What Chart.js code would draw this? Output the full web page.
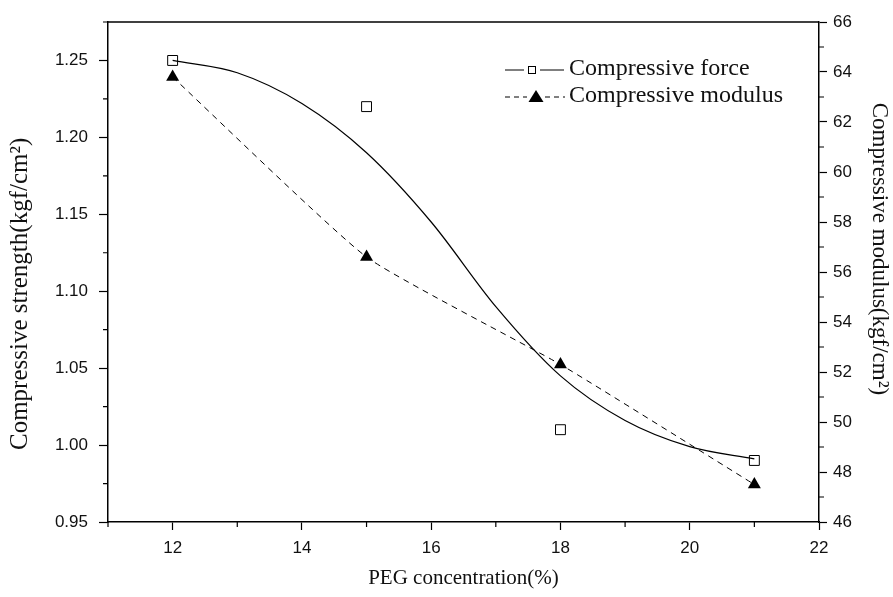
<!DOCTYPE html>
<html>
<head>
<meta charset="utf-8">
<script src="https://cdn.jsdelivr.net/npm/chart.js@4.4.1/dist/chart.umd.min.js"></script>
<style>
html, body { margin: 0; padding: 0; background: #fff; }
#wrap { width: 893px; height: 597px; }
</style>
</head>
<body>
<div id="wrap"><canvas id="c" width="893" height="597"></canvas></div>
<script>
// measured points
const concentration = [12, 15, 18, 21];
const forceValues = [1.25, 1.22, 1.01, 0.99];
const modulusValues = [63.8, 56.6, 52.3, 47.5];
// fitted curve for compressive force
const fitX = [12, 13, 14, 15, 16, 17, 18, 19, 20, 21];
const fitForce = [1.25, 1.242, 1.222, 1.19, 1.145, 1.09, 1.045, 1.016, 0.999, 0.991];

const xTickLabels = [12, 14, 16, 18, 20, 22];
const leftTickLabels = ['0.95', '1.00', '1.05', '1.10', '1.15', '1.20', '1.25'];
const rightTickLabels = [46, 48, 50, 52, 54, 56, 58, 60, 62, 64, 66];

const serif = "'Liberation Serif', 'Times New Roman', serif";
const sans = "'Liberation Sans', Arial, sans-serif";
const pad = n => '\u00A0'.repeat(n); // titles sit off-centre in the original

const xMajor = v => xTickLabels.includes(Math.round(v));
const leftMajor = v => leftTickLabels.includes(v.toFixed(2));
const rightMajor = v => rightTickLabels.includes(Math.round(v));

const tickCol = fn => c => (c.tick && fn(c.tick.value)) ? '#000' : 'rgba(0,0,0,0)';

// top frame line + short minor ticks
const frameTicks = {
    id: 'frameTicks',
    afterDraw(chart) {
        const { ctx, chartArea: a, scales } = chart;
        ctx.save();
        ctx.strokeStyle = '#000';
        ctx.lineWidth = 1.5;
        ctx.beginPath();
        ctx.moveTo(a.left, a.top); ctx.lineTo(a.right, a.top);
        ctx.stroke();
        ctx.lineWidth = 1.2;
        ctx.beginPath();
        scales.x.ticks.forEach(t => {
            if (xMajor(t.value)) return;
            const p = scales.x.getPixelForValue(t.value);
            ctx.moveTo(p, a.bottom); ctx.lineTo(p, a.bottom + 5);
        });
        scales.y.ticks.forEach(t => {
            if (leftMajor(t.value)) return;
            const p = scales.y.getPixelForValue(t.value);
            ctx.moveTo(a.left, p); ctx.lineTo(a.left - 5, p);
        });
        scales.y2.ticks.forEach(t => {
            if (rightMajor(t.value)) return;
            const p = scales.y2.getPixelForValue(t.value);
            ctx.moveTo(a.right, p); ctx.lineTo(a.right + 5, p);
        });
        ctx.stroke();
        ctx.restore();
    }
};

const legendBox = {
    id: 'legendBox',
    afterDraw(chart) {
        const ctx = chart.ctx;
        ctx.save();
        ctx.strokeStyle = '#000';
        ctx.fillStyle = '#000';
        ctx.lineWidth = 1;
        // row 1
        let y = 70;
        ctx.beginPath();
        ctx.moveTo(505, y); ctx.lineTo(524, y);
        ctx.moveTo(540, y); ctx.lineTo(564, y);
        ctx.stroke();
        ctx.fillStyle = '#fff';
        ctx.fillRect(528.5, y - 3.5, 7, 7);
        ctx.strokeRect(528.5, y - 3.5, 7, 7);
        // row 2
        y = 97;
        ctx.setLineDash([5, 4]);
        ctx.beginPath();
        ctx.moveTo(505, y); ctx.lineTo(527, y);
        ctx.moveTo(545, y); ctx.lineTo(565, y);
        ctx.stroke();
        ctx.setLineDash([]);
        ctx.fillStyle = '#000';
        ctx.beginPath();
        ctx.moveTo(536, y - 7); ctx.lineTo(543.5, y + 5); ctx.lineTo(528.5, y + 5);
        ctx.closePath();
        ctx.fill();
        ctx.font = '24px ' + serif;
        ctx.textBaseline = 'middle';
        ctx.fillStyle = '#111';
        ctx.fillText('Compressive force', 569, 69);
        ctx.fillText('Compressive modulus', 569, 96);
        ctx.restore();
    }
};

new Chart(document.getElementById('c'), {
    type: 'line',
    data: {
        datasets: [
            {
                label: 'fit',
                data: fitX.map((x, i) => ({ x, y: fitForce[i] })),
                borderColor: '#000', borderWidth: 1.2, pointRadius: 0,
                cubicInterpolationMode: 'monotone', yAxisID: 'y'
            },
            {
                label: 'Compressive force',
                data: concentration.map((x, i) => ({ x, y: forceValues[i] })),
                showLine: false, pointStyle: 'rect', pointRadius: 7,
                pointBackgroundColor: '#fff', pointBorderColor: '#000', pointBorderWidth: 1,
                yAxisID: 'y'
            },
            {
                label: 'Compressive modulus',
                data: concentration.map((x, i) => ({ x, y: modulusValues[i] })),
                borderColor: '#000', borderWidth: 1, borderDash: [6, 5],
                tension: 0.15,
                pointStyle: 'triangle', pointRadius: 7.5,
                pointBackgroundColor: '#000', pointBorderColor: '#000', pointBorderWidth: 0,
                yAxisID: 'y2'
            }
        ]
    },
    options: {
        responsive: false,
        animation: false,
        layout: { padding: { top: 22, left: 0, right: 0, bottom: 0 } },
        plugins: { legend: { display: false }, tooltip: { enabled: false } },
        scales: {
            x: {
                type: 'linear', min: 11, max: 22,
                afterFit: s => { s.height = 75; },
                border: { color: '#000', width: 1.5 },
                grid: { drawOnChartArea: false, tickLength: 8, tickWidth: 1.2, tickColor: tickCol(xMajor) },
                ticks: {
                    stepSize: 1, autoSkip: false, maxRotation: 0, padding: 8,
                    color: '#111', font: { family: sans, size: 17 },
                    callback: v => xMajor(v) ? String(Math.round(v)) : ''
                },
                title: { display: true, text: 'PEG concentration(%)', color: '#111',
                    font: { family: serif, size: 21 }, padding: { top: 0, bottom: 6 } }
            },
            y: {
                position: 'left', min: 0.95, max: 1.275,
                afterFit: s => { s.width = 108; },
                border: { color: '#000', width: 1.5 },
                grid: { drawOnChartArea: false, tickLength: 9, tickWidth: 1.2, tickColor: tickCol(leftMajor) },
                ticks: {
                    stepSize: 0.025, autoSkip: false, padding: 11,
                    color: '#111', font: { family: sans, size: 17 },
                    callback: v => leftMajor(v) ? v.toFixed(2) : ''
                },
                title: { display: true, text: 'Compressive strength(kgf/cm²)' + pad(7), color: '#111',
                    font: { family: serif, size: 25 }, padding: { top: 5, bottom: 0 } }
            },
            y2: {
                position: 'right', min: 46, max: 66,
                afterFit: s => { s.width = 74; },
                border: { color: '#000', width: 1.5 },
                grid: { drawOnChartArea: false, tickLength: 8, tickWidth: 1.2, tickColor: tickCol(rightMajor) },
                ticks: {
                    stepSize: 1, autoSkip: false, padding: 6,
                    color: '#111', font: { family: sans, size: 17 },
                    callback: v => rightMajor(v) ? String(Math.round(v)) : ''
                },
                title: { display: true, text: 'Compressive modulus(kgf/cm²)' + pad(8), color: '#111',
                    font: { family: serif, size: 23 }, padding: { top: 0, bottom: 0 } }
            }
        }
    },
    plugins: [frameTicks, legendBox]
});
</script>
</body>
</html>
